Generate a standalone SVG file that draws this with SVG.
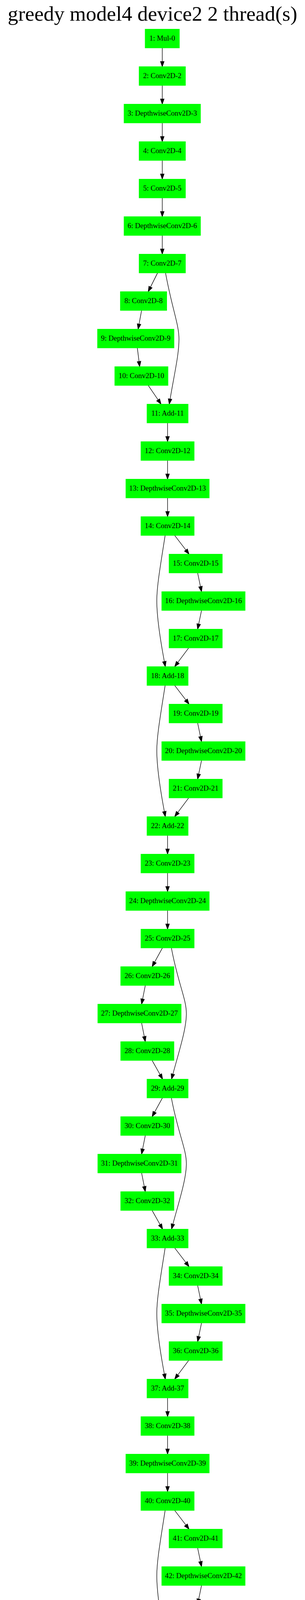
<svg xmlns="http://www.w3.org/2000/svg" width="780" height="6464" viewBox="0 0 780 6464">
<style>
.g{fill:#00ff00;stroke:#00ff00;stroke-width:1.33}
.r{fill:#ff0000;stroke:#ff0000;stroke-width:1.33}
text{font-family:"Liberation Serif","Times New Roman",serif;font-size:18.67px;text-anchor:middle;fill:#000}
.title{font-size:53.33px}
#edges path{fill:none;stroke:#000;stroke-width:1.33;marker-end:url(#ah)}
</style>
<defs>
<marker id="ah" markerUnits="userSpaceOnUse" markerWidth="14" markerHeight="10" refX="13.33" refY="4.67" orient="auto" overflow="visible">
<path d="M0,0 L13.33,4.67 L0,9.33 Z" fill="#000" stroke="#000" stroke-width="1.33"/>
</marker>
</defs>
<rect x="0" y="0" width="780" height="6464" fill="#fff"/>
<text class="title" x="390" y="53">greedy model4 device2 2 thread(s)</text>
<g id="edges">
<path d="M415,122.67 L415,170.67"/>
<path d="M415,218.67 L415,266.67"/>
<path d="M415,314.67 L415,362.67"/>
<path d="M415,410.67 L415,458.67"/>
<path d="M415,506.67 L415,554.67"/>
<path d="M415,602.67 L415,650.67"/>
<path d="M403,698.67 L379,746.67"/>
<path d="M423.3,698.67 C440,790 457.7,830 457.7,868 C457.7,910 445,960 432.8,1034.67"/>
<path d="M362.1,794.67 L353.2,842.67"/>
<path d="M351.2,890.67 L357.2,938.67"/>
<path d="M379.1,986.67 L411.9,1034.67"/>
<path d="M428.5,1082.67 L428.5,1130.67"/>
<path d="M428.5,1178.67 L428.5,1226.67"/>
<path d="M428.5,1274.67 L428.5,1322.67"/>
<path d="M446.7,1370.67 L483.5,1418.67"/>
<path d="M505.4,1466.67 L515.4,1514.67"/>
<path d="M515.4,1562.67 L505.4,1610.67"/>
<path d="M482.5,1658.67 L446.7,1706.67"/>
<path d="M422.3,1370.67 C410,1450 401,1500 401,1538 C401,1580 410,1640 422.8,1706.67"/>
<path d="M446.7,1754.67 L483.5,1802.67"/>
<path d="M505.4,1850.67 L515.4,1898.67"/>
<path d="M515.4,1946.67 L505.4,1994.67"/>
<path d="M482.5,2042.67 L446.7,2090.67"/>
<path d="M422.3,1754.67 C410,1834 401,1884 401,1922 C401,1964 410,2024 422.8,2090.67"/>
<path d="M428.5,2138.67 L428.5,2186.67"/>
<path d="M428.5,2234.67 L428.5,2282.67"/>
<path d="M428.5,2330.67 L428.5,2378.67"/>
<path d="M415.4,2426.67 L389,2474.67"/>
<path d="M371.6,2522.67 L362.1,2570.67"/>
<path d="M362.1,2618.67 L371.6,2666.67"/>
<path d="M389,2714.67 L415.9,2762.67"/>
<path d="M438.3,2426.67 C455,2516.67 476.6,2556.67 476.6,2594.67 C476.6,2636.67 456,2696.67 438.7,2762.67"/>
<path d="M415.4,2810.67 L389,2858.67"/>
<path d="M371.6,2906.67 L362.1,2954.67"/>
<path d="M362.1,3002.67 L371.6,3050.67"/>
<path d="M389,3098.67 L415.9,3146.67"/>
<path d="M438.3,2810.67 C455,2900.67 476.6,2940.67 476.6,2978.67 C476.6,3020.67 456,3080.67 438.7,3146.67"/>
<path d="M446.7,3194.67 L483.5,3242.67"/>
<path d="M505.4,3290.67 L515.4,3338.67"/>
<path d="M515.4,3386.67 L505.4,3434.67"/>
<path d="M482.5,3482.67 L446.7,3530.67"/>
<path d="M422.3,3194.67 C410,3274 401,3324 401,3362 C401,3404 410,3464 422.8,3530.67"/>
<path d="M428.5,3578.67 L428.5,3626.67"/>
<path d="M428.5,3674.67 L428.5,3722.67"/>
<path d="M428.5,3770.67 L428.5,3818.67"/>
<path d="M446.7,3866.67 L483.5,3914.67"/>
<path d="M505.4,3962.67 L515.4,4010.67"/>
<path d="M515.4,4058.67 L505.4,4106.67"/>
<path d="M482.5,4154.67 L446.7,4202.67"/>
<path d="M422.3,3866.67 C410,3946 401,3996 401,4034 C401,4076 410,4136 422.8,4202.67"/>
<path d="M415.4,4250.67 L389,4298.67"/>
<path d="M371.6,4346.67 L362.1,4394.67"/>
<path d="M362.1,4442.67 L371.6,4490.67"/>
<path d="M389,4538.67 L415.9,4586.67"/>
<path d="M438.3,4250.67 C455,4340.67 476.6,4380.67 476.6,4418.67 C476.6,4460.67 456,4520.67 438.7,4586.67"/>
<path d="M379,4634.67 L276,4682.67"/>
<path d="M428.5,4634.67 L428.5,4682.67"/>
<path d="M477.5,4634.67 L579.5,4682.67"/>
<path d="M216.4,4730.67 L195,4778.67"/>
<path d="M428.5,4730.67 L428.5,4778.67"/>
<path d="M638.2,4730.67 L659.1,4778.67"/>
<path d="M180,4826.67 L172.6,4874.67"/>
<path d="M428.5,4826.67 L428.5,4874.67"/>
<path d="M669,4826.67 L670,4874.67"/>
<path d="M169.1,4922.67 L169.1,4970.67"/>
<path d="M135.3,4922.67 C70,4990 50,5030 44,5100 C38,5170 60,5220 103,5258.67"/>
<path d="M169.1,5018.67 L169.1,5066.67"/>
<path d="M161.7,5114.67 L148.2,5162.67"/>
<path d="M139.8,5210.67 L137.3,5258.67"/>
<path d="M431.3,4922.67 L436.3,4970.67"/>
<path d="M399.5,4922.67 C368,4962 345,5000 342,5050 C339,5100 337,5130 345,5160 L387,5258.67"/>
<path d="M443.7,5018.67 L451.7,5066.67"/>
<path d="M454.7,5114.67 L452.2,5162.67"/>
<path d="M436.8,5210.67 L412.9,5258.67"/>
<path d="M670.1,4922.67 L671,4970.67"/>
<path d="M671.6,5018.67 L672.6,5066.67"/>
<path d="M672.5,5114.67 L672.5,5162.67"/>
<path d="M672.5,5210.67 L672.5,5258.67"/>
<path d="M133.8,5306.67 L132.3,5354.67"/>
<path d="M167.6,5306.67 C200,5340 230,5390 233,5460 C236,5530 225,5580 204,5642.67"/>
<path d="M401.4,5306.67 C405,5390 412,5460 425,5530 C432,5570 442,5610 450.2,5642.67"/>
<path d="M428.8,5306.67 L491.5,5354.67"/>
<path d="M125.9,5402.67 L116.9,5450.67"/>
<path d="M116.4,5498.67 L125.9,5546.67"/>
<path d="M147.2,5594.67 L179.1,5642.67"/>
<path d="M525.8,5402.67 L534.8,5450.67"/>
<path d="M535.3,5498.67 L525.8,5546.67"/>
<path d="M504.4,5594.67 L472.6,5642.67"/>
<path d="M195,5690.67 L195,5738.67"/>
<path d="M195,5786.67 L195,5834.67"/>
<path d="M195,5882.67 L195,5930.67"/>
<path d="M195,5978.67 L195,6026.67"/>
<path d="M195,6074.67 L195,6122.67"/>
<path d="M195,6170.67 L195,6218.67"/>
<path d="M195,6266.67 L195,6314.67"/>
<path d="M456.5,5690.67 L456.5,5738.67"/>
<path d="M456.5,5786.67 L456.5,5834.67"/>
<path d="M456.5,5882.67 L456.5,5930.67"/>
<path d="M456.5,5978.67 L456.5,6026.67"/>
<path d="M456.5,6074.67 L456.5,6122.67"/>
<path d="M456.5,6170.67 L456.5,6218.67"/>
<path d="M456.5,6266.67 L456.5,6314.67"/>
<path d="M456.5,6362.67 L456.5,6410.67"/>
</g>
<g id="n1" transform="translate(415 98.67)"><rect class="g" x="-43.75" y="-24" width="87.5" height="48"/><text y="5.6">1: Mul-0</text></g>
<g id="n2" transform="translate(415 194.67)"><rect class="g" x="-59.2" y="-24" width="118.4" height="48"/><text y="5.6">2: Conv2D-2</text></g>
<g id="n3" transform="translate(415 290.67)"><rect class="g" x="-97.75" y="-24" width="195.5" height="48"/><text y="5.6">3: DepthwiseConv2D-3</text></g>
<g id="n4" transform="translate(415 386.67)"><rect class="g" x="-59.2" y="-24" width="118.4" height="48"/><text y="5.6">4: Conv2D-4</text></g>
<g id="n5" transform="translate(415 482.67)"><rect class="g" x="-59.2" y="-24" width="118.4" height="48"/><text y="5.6">5: Conv2D-5</text></g>
<g id="n6" transform="translate(415 578.67)"><rect class="g" x="-97.75" y="-24" width="195.5" height="48"/><text y="5.6">6: DepthwiseConv2D-6</text></g>
<g id="n7" transform="translate(415 674.67)"><rect class="g" x="-59.2" y="-24" width="118.4" height="48"/><text y="5.6">7: Conv2D-7</text></g>
<g id="n8" transform="translate(367.1 770.67)"><rect class="g" x="-59.2" y="-24" width="118.4" height="48"/><text y="5.6">8: Conv2D-8</text></g>
<g id="n9" transform="translate(347.2 866.67)"><rect class="g" x="-97.75" y="-24" width="195.5" height="48"/><text y="5.6">9: DepthwiseConv2D-9</text></g>
<g id="n10" transform="translate(361.6 962.67)"><rect class="g" x="-68" y="-24" width="136" height="48"/><text y="5.6">10: Conv2D-10</text></g>
<g id="n11" transform="translate(428.5 1058.67)"><rect class="g" x="-52.5" y="-24" width="105" height="48"/><text y="5.6">11: Add-11</text></g>
<g id="n12" transform="translate(428.5 1154.67)"><rect class="g" x="-68" y="-24" width="136" height="48"/><text y="5.6">12: Conv2D-12</text></g>
<g id="n13" transform="translate(428.5 1250.67)"><rect class="g" x="-106.5" y="-24" width="213" height="48"/><text y="5.6">13: DepthwiseConv2D-13</text></g>
<g id="n14" transform="translate(428.5 1346.67)"><rect class="g" x="-68" y="-24" width="136" height="48"/><text y="5.6">14: Conv2D-14</text></g>
<g id="n15" transform="translate(500.4 1442.67)"><rect class="g" x="-68" y="-24" width="136" height="48"/><text y="5.6">15: Conv2D-15</text></g>
<g id="n16" transform="translate(520.3 1538.67)"><rect class="g" x="-106.5" y="-24" width="213" height="48"/><text y="5.6">16: DepthwiseConv2D-16</text></g>
<g id="n17" transform="translate(500.4 1634.67)"><rect class="g" x="-68" y="-24" width="136" height="48"/><text y="5.6">17: Conv2D-17</text></g>
<g id="n18" transform="translate(428.5 1730.67)"><rect class="g" x="-52.5" y="-24" width="105" height="48"/><text y="5.6">18: Add-18</text></g>
<g id="n19" transform="translate(500.4 1826.67)"><rect class="g" x="-68" y="-24" width="136" height="48"/><text y="5.6">19: Conv2D-19</text></g>
<g id="n20" transform="translate(520.3 1922.67)"><rect class="g" x="-106.5" y="-24" width="213" height="48"/><text y="5.6">20: DepthwiseConv2D-20</text></g>
<g id="n21" transform="translate(500.4 2018.67)"><rect class="g" x="-68" y="-24" width="136" height="48"/><text y="5.6">21: Conv2D-21</text></g>
<g id="n22" transform="translate(428.5 2114.67)"><rect class="g" x="-52.5" y="-24" width="105" height="48"/><text y="5.6">22: Add-22</text></g>
<g id="n23" transform="translate(428.5 2210.67)"><rect class="g" x="-68" y="-24" width="136" height="48"/><text y="5.6">23: Conv2D-23</text></g>
<g id="n24" transform="translate(428.5 2306.67)"><rect class="g" x="-106.5" y="-24" width="213" height="48"/><text y="5.6">24: DepthwiseConv2D-24</text></g>
<g id="n25" transform="translate(428.5 2402.67)"><rect class="g" x="-68" y="-24" width="136" height="48"/><text y="5.6">25: Conv2D-25</text></g>
<g id="n26" transform="translate(376.8 2498.67)"><rect class="g" x="-68" y="-24" width="136" height="48"/><text y="5.6">26: Conv2D-26</text></g>
<g id="n27" transform="translate(356.7 2594.67)"><rect class="g" x="-106.5" y="-24" width="213" height="48"/><text y="5.6">27: DepthwiseConv2D-27</text></g>
<g id="n28" transform="translate(376.8 2690.67)"><rect class="g" x="-68" y="-24" width="136" height="48"/><text y="5.6">28: Conv2D-28</text></g>
<g id="n29" transform="translate(428.5 2786.67)"><rect class="g" x="-52.5" y="-24" width="105" height="48"/><text y="5.6">29: Add-29</text></g>
<g id="n30" transform="translate(376.8 2882.67)"><rect class="g" x="-68" y="-24" width="136" height="48"/><text y="5.6">30: Conv2D-30</text></g>
<g id="n31" transform="translate(356.7 2978.67)"><rect class="g" x="-106.5" y="-24" width="213" height="48"/><text y="5.6">31: DepthwiseConv2D-31</text></g>
<g id="n32" transform="translate(376.8 3074.67)"><rect class="g" x="-68" y="-24" width="136" height="48"/><text y="5.6">32: Conv2D-32</text></g>
<g id="n33" transform="translate(428.5 3170.67)"><rect class="g" x="-52.5" y="-24" width="105" height="48"/><text y="5.6">33: Add-33</text></g>
<g id="n34" transform="translate(500.4 3266.67)"><rect class="g" x="-68" y="-24" width="136" height="48"/><text y="5.6">34: Conv2D-34</text></g>
<g id="n35" transform="translate(520.3 3362.67)"><rect class="g" x="-106.5" y="-24" width="213" height="48"/><text y="5.6">35: DepthwiseConv2D-35</text></g>
<g id="n36" transform="translate(500.4 3458.67)"><rect class="g" x="-68" y="-24" width="136" height="48"/><text y="5.6">36: Conv2D-36</text></g>
<g id="n37" transform="translate(428.5 3554.67)"><rect class="g" x="-52.5" y="-24" width="105" height="48"/><text y="5.6">37: Add-37</text></g>
<g id="n38" transform="translate(428.5 3650.67)"><rect class="g" x="-68" y="-24" width="136" height="48"/><text y="5.6">38: Conv2D-38</text></g>
<g id="n39" transform="translate(428.5 3746.67)"><rect class="g" x="-106.5" y="-24" width="213" height="48"/><text y="5.6">39: DepthwiseConv2D-39</text></g>
<g id="n40" transform="translate(428.5 3842.67)"><rect class="g" x="-68" y="-24" width="136" height="48"/><text y="5.6">40: Conv2D-40</text></g>
<g id="n41" transform="translate(500.4 3938.67)"><rect class="g" x="-68" y="-24" width="136" height="48"/><text y="5.6">41: Conv2D-41</text></g>
<g id="n42" transform="translate(520.3 4034.67)"><rect class="g" x="-106.5" y="-24" width="213" height="48"/><text y="5.6">42: DepthwiseConv2D-42</text></g>
<g id="n43" transform="translate(500.4 4130.67)"><rect class="g" x="-68" y="-24" width="136" height="48"/><text y="5.6">43: Conv2D-43</text></g>
<g id="n44" transform="translate(428.5 4226.67)"><rect class="g" x="-52.5" y="-24" width="105" height="48"/><text y="5.6">44: Add-44</text></g>
<g id="n45" transform="translate(376.8 4322.67)"><rect class="g" x="-68" y="-24" width="136" height="48"/><text y="5.6">45: Conv2D-45</text></g>
<g id="n46" transform="translate(356.7 4418.67)"><rect class="g" x="-106.5" y="-24" width="213" height="48"/><text y="5.6">46: DepthwiseConv2D-46</text></g>
<g id="n47" transform="translate(376.8 4514.67)"><rect class="g" x="-68" y="-24" width="136" height="48"/><text y="5.6">47: Conv2D-47</text></g>
<g id="n48" transform="translate(428.5 4610.67)"><rect class="g" x="-52.5" y="-24" width="105" height="48"/><text y="5.6">48: Add-48</text></g>
<g id="n51" transform="translate(227.1 4706.67)"><rect class="g" x="-68" y="-24" width="136" height="48"/><text y="5.6">51: Conv2D-49</text></g>
<g id="n50" transform="translate(428.5 4706.67)"><rect class="g" x="-68" y="-24" width="136" height="48"/><text y="5.6">50: Conv2D-50</text></g>
<g id="n49" transform="translate(627.3 4706.67)"><rect class="g" x="-68" y="-24" width="136" height="48"/><text y="5.6">49: Conv2D-51</text></g>
<g id="n54" transform="translate(184.6 4802.67)"><rect class="r" x="-106.5" y="-24" width="213" height="48"/><text y="5.6">54: DepthwiseConv2D-52</text></g>
<g id="n53" transform="translate(428.5 4802.67)"><rect class="g" x="-106.5" y="-24" width="213" height="48"/><text y="5.6">53: DepthwiseConv2D-53</text></g>
<g id="n52" transform="translate(668.6 4802.67)"><rect class="g" x="-106.5" y="-24" width="213" height="48"/><text y="5.6">52: DepthwiseConv2D-54</text></g>
<g id="n57" transform="translate(168.4 4898.67)"><rect class="r" x="-68" y="-24" width="136" height="48"/><text y="5.6">57: Conv2D-55</text></g>
<g id="n56" transform="translate(428.5 4898.67)"><rect class="g" x="-68" y="-24" width="136" height="48"/><text y="5.6">56: Conv2D-56</text></g>
<g id="n55" transform="translate(669.8 4898.67)"><rect class="g" x="-68" y="-24" width="136" height="48"/><text y="5.6">55: Conv2D-57</text></g>
<g id="n60" transform="translate(168.4 4994.67)"><rect class="r" x="-68" y="-24" width="136" height="48"/><text y="5.6">60: Conv2D-59</text></g>
<g id="n59" transform="translate(439.2 4994.67)"><rect class="g" x="-68" y="-24" width="136" height="48"/><text y="5.6">59: Conv2D-60</text></g>
<g id="n58" transform="translate(671.3 4994.67)"><rect class="g" x="-68" y="-24" width="136" height="48"/><text y="5.6">58: Conv2D-58</text></g>
<g id="n61" transform="translate(168.6 5090.67)"><rect class="g" x="-106.5" y="-24" width="213" height="48"/><text y="5.6">61: DepthwiseConv2D-62</text></g>
<g id="n63" transform="translate(456.7 5090.67)"><rect class="g" x="-106.5" y="-24" width="213" height="48"/><text y="5.6">63: DepthwiseConv2D-63</text></g>
<g id="n62" transform="translate(672.6 5090.67)"><rect class="r" x="-86.75" y="-24" width="173.5" height="48"/><text y="5.6">62: MeanPooling-61</text></g>
<g id="n64" transform="translate(141.8 5186.67)"><rect class="g" x="-68" y="-24" width="136" height="48"/><text y="5.6">64: Conv2D-66</text></g>
<g id="n66" transform="translate(449.9 5186.67)"><rect class="g" x="-68" y="-24" width="136" height="48"/><text y="5.6">66: Conv2D-67</text></g>
<g id="n65" transform="translate(672.5 5186.67)"><rect class="r" x="-68" y="-24" width="136" height="48"/><text y="5.6">65: Conv2D-64</text></g>
<g id="n67" transform="translate(135.1 5282.67)"><rect class="r" x="-52.5" y="-24" width="105" height="48"/><text y="5.6">67: Add-68</text></g>
<g id="n68" transform="translate(399.2 5282.67)"><rect class="r" x="-52.5" y="-24" width="105" height="48"/><text y="5.6">68: Add-69</text></g>
<g id="n69" transform="translate(672.5 5282.67)"><rect class="r" x="-68.25" y="-24" width="136.5" height="48"/><text y="5.6">69: Reshape-65</text></g>
<g id="n70" transform="translate(131.1 5378.67)"><rect class="g" x="-68" y="-24" width="136" height="48"/><text y="5.6">70: Conv2D-70</text></g>
<g id="n71" transform="translate(520.6 5378.67)"><rect class="g" x="-68" y="-24" width="136" height="48"/><text y="5.6">71: Conv2D-71</text></g>
<g id="n72" transform="translate(110.9 5474.67)"><rect class="g" x="-106.5" y="-24" width="213" height="48"/><text y="5.6">72: DepthwiseConv2D-72</text></g>
<g id="n73" transform="translate(540.5 5474.67)"><rect class="r" x="-106.5" y="-24" width="213" height="48"/><text y="5.6">73: DepthwiseConv2D-73</text></g>
<g id="n74" transform="translate(131.1 5570.67)"><rect class="g" x="-68" y="-24" width="136" height="48"/><text y="5.6">74: Conv2D-74</text></g>
<g id="n75" transform="translate(520.6 5570.67)"><rect class="r" x="-68" y="-24" width="136" height="48"/><text y="5.6">75: Conv2D-75</text></g>
<g id="n77" transform="translate(195 5666.67)"><rect class="g" x="-52.5" y="-24" width="105" height="48"/><text y="5.6">77: Add-76</text></g>
<g id="n76" transform="translate(456.5 5666.67)"><rect class="r" x="-52.5" y="-24" width="105" height="48"/><text y="5.6">76: Add-77</text></g>
<g id="n79" transform="translate(195 5762.67)"><rect class="g" x="-68" y="-24" width="136" height="48"/><text y="5.6">79: Conv2D-78</text></g>
<g id="n78" transform="translate(456.5 5762.67)"><rect class="g" x="-68" y="-24" width="136" height="48"/><text y="5.6">78: Conv2D-79</text></g>
<g id="n81" transform="translate(195 5858.67)"><rect class="r" x="-106.5" y="-24" width="213" height="48"/><text y="5.6">81: DepthwiseConv2D-80</text></g>
<g id="n80" transform="translate(456.5 5858.67)"><rect class="g" x="-106.5" y="-24" width="213" height="48"/><text y="5.6">80: DepthwiseConv2D-81</text></g>
<g id="n83" transform="translate(195 5954.67)"><rect class="r" x="-68" y="-24" width="136" height="48"/><text y="5.6">83: Conv2D-82</text></g>
<g id="n82" transform="translate(456.5 5954.67)"><rect class="g" x="-68" y="-24" width="136" height="48"/><text y="5.6">82: Conv2D-83</text></g>
<g id="n84" transform="translate(195 6050.67)"><rect class="g" x="-68" y="-24" width="136" height="48"/><text y="5.6">84: Conv2D-84</text></g>
<g id="n85" transform="translate(456.5 6050.67)"><rect class="g" x="-68" y="-24" width="136" height="48"/><text y="5.6">85: Conv2D-85</text></g>
<g id="n86" transform="translate(195 6146.67)"><rect class="g" x="-86.75" y="-24" width="173.5" height="48"/><text y="5.6">86: MeanPooling-86</text></g>
<g id="n87" transform="translate(456.5 6146.67)"><rect class="r" x="-86.75" y="-24" width="173.5" height="48"/><text y="5.6">87: MeanPooling-87</text></g>
<g id="n88" transform="translate(195 6242.67)"><rect class="g" x="-68" y="-24" width="136" height="48"/><text y="5.6">88: Conv2D-88</text></g>
<g id="n89" transform="translate(456.5 6242.67)"><rect class="r" x="-68" y="-24" width="136" height="48"/><text y="5.6">89: Conv2D-89</text></g>
<g id="n90" transform="translate(195 6338.67)"><rect class="r" x="-68.25" y="-24" width="136.5" height="48"/><text y="5.6">90: Reshape-90</text></g>
<g id="n91" transform="translate(456.5 6338.67)"><rect class="r" x="-68.25" y="-24" width="136.5" height="48"/><text y="5.6">91: Reshape-91</text></g>
<g id="n92" transform="translate(456.5 6434.67)"><rect class="r" x="-67.25" y="-24" width="134.5" height="48"/><text y="5.6">92: Logistic-92</text></g>
</svg>
